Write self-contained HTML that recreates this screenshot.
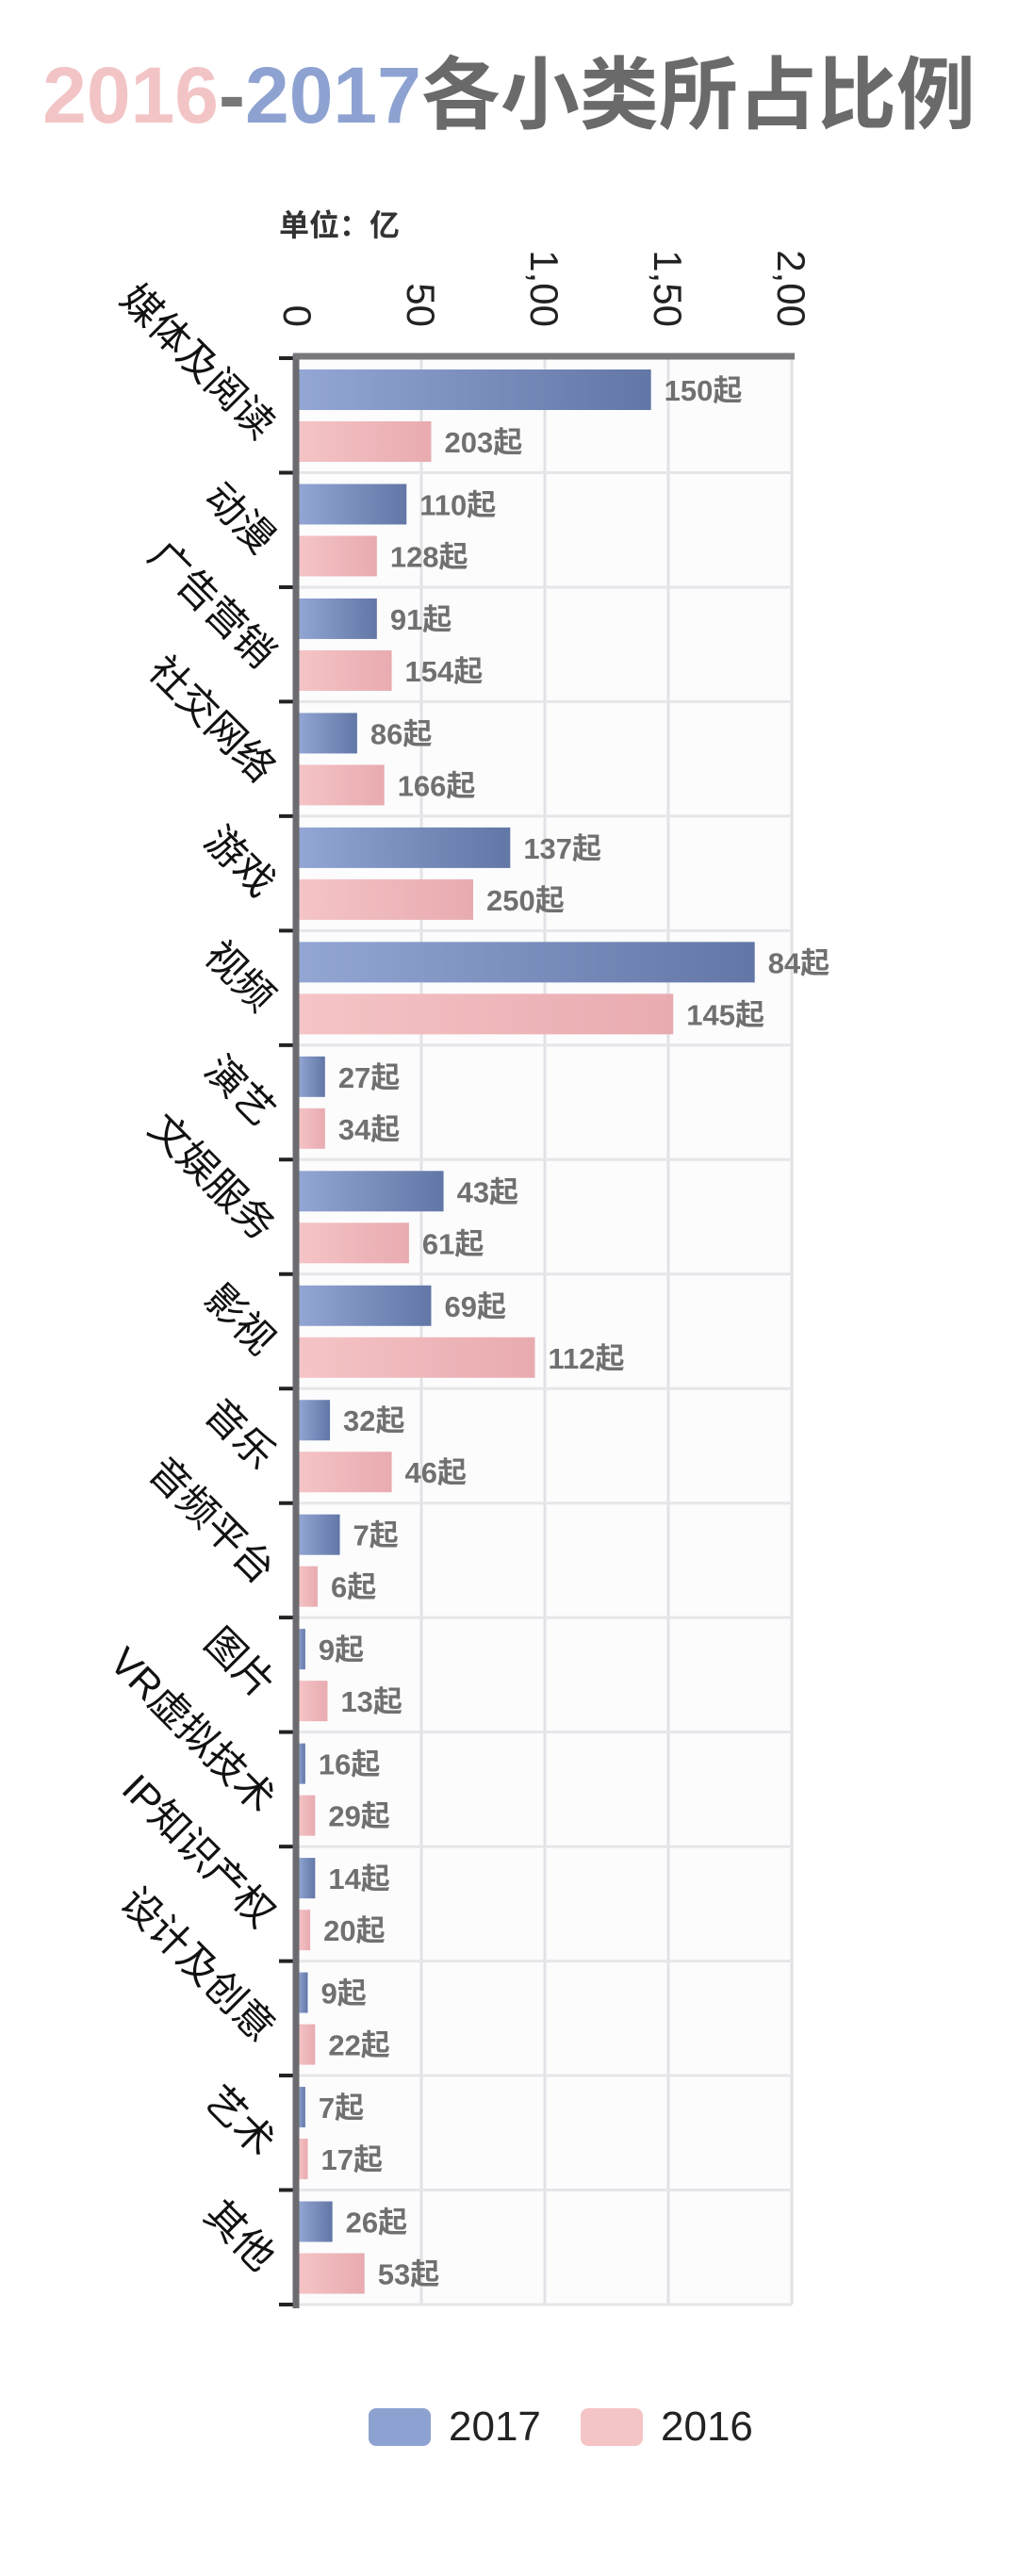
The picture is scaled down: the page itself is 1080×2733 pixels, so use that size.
<!DOCTYPE html>
<html><head><meta charset="utf-8">
<style>
html,body{margin:0;padding:0;background:#fff;}
body{width:1080px;height:2728px;overflow:hidden;font-family:"Liberation Sans","Noto Sans CJK SC",sans-serif;}
</style></head>
<body>
<svg width="1080" height="2728" viewBox="0 0 1080 2728" xmlns="http://www.w3.org/2000/svg">
<defs>
<linearGradient id="gb" x1="0" x2="1" y1="0" y2="0"><stop offset="0" stop-color="#93a6d4"/><stop offset="1" stop-color="#6277a6"/></linearGradient>
<linearGradient id="gp" x1="0" x2="1" y1="0" y2="0"><stop offset="0" stop-color="#f5c4c6"/><stop offset="1" stop-color="#e8abb0"/></linearGradient>
</defs>
<text x="540" y="130" text-anchor="middle" font-size="84" font-weight="bold"><tspan fill="#f2c4c6">2016</tspan><tspan fill="#777">-</tspan><tspan fill="#8ea2d1">2017</tspan><tspan fill="#6a6a6a" font-family="'Noto Sans CJK SC',sans-serif">各小类所占比例</tspan></text>
<text x="296" y="250" font-size="32" font-weight="bold" fill="#333">单位：亿</text>
<g id="grid"></g>
<g id="bars"></g>
<g id="axes"></g>
<g>
<rect x="391" y="2555" width="66" height="40" rx="8" fill="#8ea2d1"/>
<text x="476" y="2589" font-size="44" fill="#222">2017</text>
<rect x="616" y="2555" width="66" height="40" rx="8" fill="#f5c4c6"/>
<text x="701" y="2589" font-size="44" fill="#222">2016</text>
</g>
</svg>
<script>
const categories=["媒体及阅读","动漫","广告营销","社交网络","游戏","视频","演艺","文娱服务","影视","音乐","音频平台","图片","VR虚拟技术","IP知识产权","设计及创意","艺术","其他"];
const values2017=[143,44,32,24,86,185,11,59,54,13,17,3,3,7,4,3,14];
const values2016=[54,32,38,35,71,152,11,45,96,38,8,12,7,5,7,4,27];
const counts2017=["150起","110起","91起","86起","137起","84起","27起","43起","69起","32起","7起","9起","16起","14起","9起","7起","26起"];
const counts2016=["203起","128起","154起","166起","250起","145起","34起","61起","112起","46起","6起","13起","29起","20起","22起","17起","53起"];
const xTicks=[0,50,100,150,200];
const xTickLabels=["0","50","1,00","1,50","2,00"];
const NS="http://www.w3.org/2000/svg";
const L=316,R=840,T=380,B=2445,XMAX=200;
const band=(B-T)/categories.length;
function x(v){return L+(R-L)*v/XMAX;}
function yBand(i){return T+i*band;}
function mk(tag,attrs,parent){const e=document.createElementNS(NS,tag);for(const k in attrs)e.setAttribute(k,attrs[k]);parent.appendChild(e);return e;}
const grid=document.getElementById('grid'),bars=document.getElementById('bars'),axes=document.getElementById('axes');
mk('rect',{x:L,y:T,width:R-L,height:B-T,fill:'#fcfcfd'},grid);
xTicks.forEach((t,i)=>{
  const l=mk('line',{x1:x(t),x2:x(t),y1:T,y2:B,stroke:'#e2e2e6','stroke-width':3},grid);
  
  
  const tx=mk('text',{x:0,y:0,'font-size':42,fill:'#222','text-anchor':'end',transform:`translate(${x(t)-15},347) rotate(90)`},axes);
  tx.textContent=xTickLabels[i];
  
  
});
for(let i=0;i<=categories.length;i++){
  const l=mk('line',{x1:L,x2:R,y1:yBand(i),y2:yBand(i),stroke:'#e6e6ea','stroke-width':3},grid);
  
  
  const tk=mk('line',{x1:L-20,x2:L,y1:yBand(i),y2:yBand(i),stroke:'#222','stroke-width':4},axes);
  
  
}
categories.forEach((c,i)=>{
  const y0=yBand(i);
  const b1=mk('rect',{x:L,y:y0+12,width:x(values2017[i])-L,height:43,fill:'url(#gb)'},bars);
  
  
  const b2=mk('rect',{x:L,y:y0+67,width:x(values2016[i])-L,height:43,fill:'url(#gp)'},bars);
  
  
  const t1=mk('text',{x:x(values2017[i])+14,y:y0+45,'font-size':31,'font-weight':'bold',fill:'#707070'},bars);
  t1.textContent=counts2017[i];
  
  
  const t2=mk('text',{x:x(values2016[i])+14,y:y0+100,'font-size':31,'font-weight':'bold',fill:'#707070'},bars);
  t2.textContent=counts2016[i];
  
  
  const cl=mk('text',{x:0,y:0,'font-size':42,fill:'#111','text-anchor':'end',transform:`translate(274,${y0+88}) rotate(45)`},axes);
  cl.textContent=c;
  
  
});
const ax=mk('line',{x1:L-2,x2:L-2,y1:T-4,y2:B+4,stroke:'#6b6b70','stroke-width':7},axes);


const tl=mk('line',{x1:L-5,x2:R+3,y1:T-2,y2:T-2,stroke:'#77777c','stroke-width':7},axes);


</script>
</body></html>
